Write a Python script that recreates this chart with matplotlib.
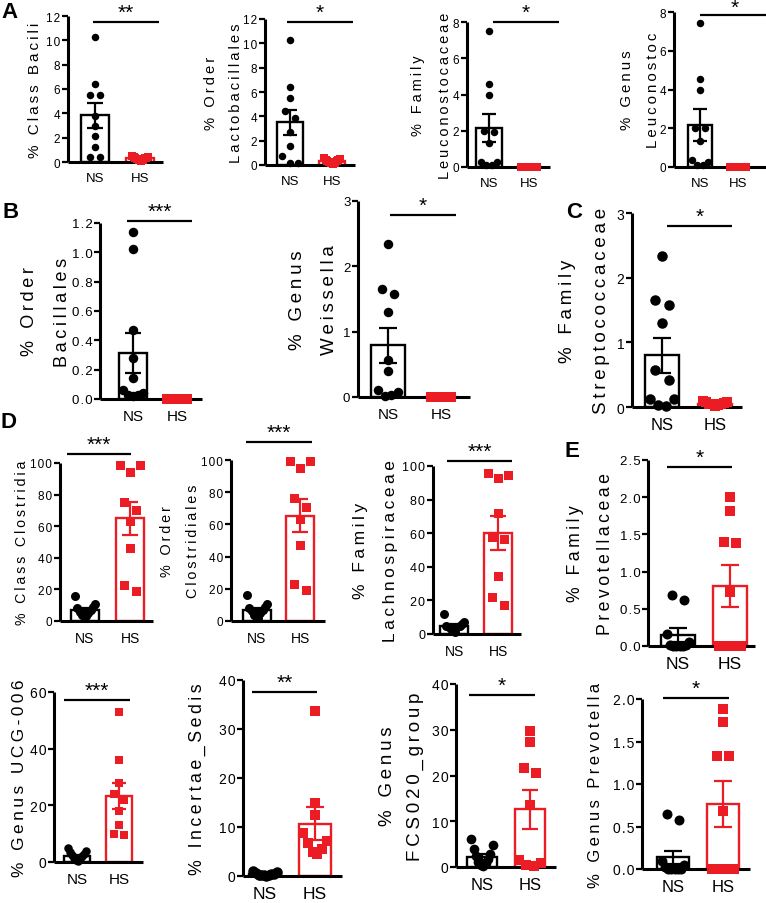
import numpy as np
import matplotlib
matplotlib.use('Agg')
import matplotlib.pyplot as plt

plt.rcParams['font.family'] = ['Liberation Sans', 'DejaVu Sans']

W, H = 766, 904
RED = '#ec1c24'
groups = ['NS', 'HS']

# ---------------- data (percent abundance) ----------------
bacili_ns = [10.3, 6.4, 5.5, 5.5, 3.8, 3.0, 2.1, 1.2, 0.4, 0.4]
bacili_hs = [0.5, 0.45, 0.4, 0.35, 0.3, 0.3, 0.25, 0.2, 0.15, 0.1]
bacili_mean = [3.84, 0.30]
bacili_sem = [1.02, 0.04]
bacili_ticks = [0, 2, 4, 6, 8, 10, 12]

lacto_ns = [10.3, 6.4, 5.5, 4.4, 3.9, 2.7, 1.6, 0.7, 0.2, 0.2]
lacto_hs = [0.55, 0.5, 0.45, 0.4, 0.35, 0.3, 0.25, 0.2, 0.15, 0.1]
lacto_mean = [3.5, 0.32]
lacto_sem = [1.05, 0.05]
lacto_ticks = [0, 2, 4, 6, 8, 10, 12]

leucfam_ns = [7.5, 4.6, 4.0, 2.0, 1.95, 1.3, 0.3, 0.3, 0.1, 0.1]
leucfam_hs = [0, 0, 0, 0, 0, 0, 0, 0, 0, 0]
leucfam_mean = [2.17, 0.0]
leucfam_sem = [0.78, 0.0]
leucfam_ticks = [0, 2, 4, 6, 8]

leucgen_ns = [7.45, 4.55, 4.0, 2.0, 2.0, 1.35, 0.35, 0.25, 0.1, 0.1]
leucgen_hs = [0, 0, 0, 0, 0, 0, 0, 0, 0, 0]
leucgen_mean = [2.16, 0.0]
leucgen_sem = [0.82, 0.0]
leucgen_ticks = [0, 2, 4, 6, 8]

bacillales_ns = [1.14, 1.02, 0.47, 0.28, 0.14, 0.06, 0.04, 0.03, 0.03, 0.02]
bacillales_hs = [0, 0, 0, 0, 0, 0, 0, 0, 0, 0]
bacillales_mean = [0.314, 0.0]
bacillales_sem = [0.135, 0.0]
bacillales_ticks = [0.0, 0.2, 0.4, 0.6, 0.8, 1.0, 1.2]

weissella_ns = [2.34, 1.65, 1.58, 1.30, 0.56, 0.40, 0.10, 0.08, 0.03, 0.02]
weissella_hs = [0, 0, 0, 0, 0, 0, 0, 0, 0, 0]
weissella_mean = [0.79, 0.0]
weissella_sem = [0.27, 0.0]
weissella_ticks = [0, 1, 2, 3]

strep_ns = [2.34, 1.66, 1.58, 1.30, 0.57, 0.41, 0.13, 0.13, 0.03, 0.02]
strep_hs = [0.1, 0.08, 0.07, 0.06, 0.05, 0.05, 0.04, 0.03, 0.02]
strep_mean = [0.80, 0.05]
strep_sem = [0.27, 0.01]
strep_ticks = [0, 1, 2, 3]

clostridia_ns = [16, 10.5, 9, 8, 7, 6, 5, 4, 3, 3]
clostridia_hs = [98.9, 98.7, 94.5, 75.6, 70.3, 63.6, 46.1, 22.9, 18.7]
clostridia_mean = [7.2, 65.1]
clostridia_sem = [1.3, 10.5]
clostridia_ticks = [0, 20, 40, 60, 80, 100]

clostridiales_ns = [16, 10.5, 9, 8, 7, 6, 5, 4, 3, 2]
clostridiales_hs = [99.2, 99.2, 95, 76.2, 70.7, 63.4, 46.9, 23.1, 19]
clostridiales_mean = [7.0, 65.5]
clostridiales_sem = [1.3, 10.4]
clostridiales_ticks = [0, 20, 40, 60, 80, 100]

lachno_ns = [12, 7, 6, 5, 5, 4, 4, 3, 2, 1]
lachno_hs = [95.6, 94.7, 93.1, 71.9, 58.0, 56.8, 34.7, 21.8, 17.2]
lachno_mean = [5.0, 60.0]
lachno_sem = [1.0, 10.2]
lachno_ticks = [0, 20, 40, 60, 80, 100]

prevfam_ns = [0.69, 0.62, 0.16, 0.05, 0.02, 0.01, 0, 0, 0, 0]
prevfam_hs = [2.0, 1.82, 1.4, 1.38, 0.73, 0, 0, 0, 0]
prevfam_mean = [0.148, 0.81]
prevfam_sem = [0.095, 0.28]
prevfam_ticks = [0.0, 0.5, 1.0, 1.5, 2.0, 2.5]

ucg_ns = [5.0, 4.0, 3.5, 3.0, 2.5, 2.0, 1.5, 1.0, 0.8, 0.5]
ucg_hs = [52.9, 35.9, 28, 24, 22, 18, 13.2, 10, 9.4]
ucg_mean = [2.1, 23.3]
ucg_sem = [0.5, 4.6]
ucg_ticks = [0, 20, 40, 60]

incertae_ns = [1.0, 0.8, 0.6, 0.5, 0.4, 0.3, 0.3, 0.2, 0.2, 0.1]
incertae_hs = [33.7, 15, 12.4, 8.8, 7.2, 6.8, 5.5, 4.8, 4.5]
incertae_mean = [0.44, 10.7]
incertae_sem = [0.09, 3.4]
incertae_ticks = [0, 10, 20, 30, 40]

fcs_ns = [6.2, 4.7, 3.9, 2.9, 2.5, 1.8, 1.2, 0.8, 0.5, 0.3]
fcs_hs = [29.8, 27.3, 21.6, 20.6, 13.6, 1.5, 0.8, 0.5, 0.3]
fcs_mean = [2.2, 12.6]
fcs_sem = [0.6, 4.2]
fcs_ticks = [0, 10, 20, 30, 40]

prevgen_ns = [0.65, 0.58, 0.1, 0.05, 0.02, 0, 0, 0, 0, 0]
prevgen_hs = [1.88, 1.73, 1.33, 1.33, 0.68, 0, 0, 0, 0]
prevgen_mean = [0.137, 0.765]
prevgen_sem = [0.08, 0.265]
prevgen_ticks = [0.0, 0.5, 1.0, 1.5, 2.0]

# ---------------- layout (pixels) ----------------
# box: left, right, zero-line y, top y, NS x, HS x
panels = [
    dict(ns=bacili_ns, hs=bacili_hs, mean=bacili_mean, sem=bacili_sem, ticks=bacili_ticks, fmt='{:g}',
         label=['% Class Bacili'], lab_x=[35], box=(68, 163, 163, 17, 95, 140),
         sig=(93, 159, 23, '**'), fs=(11, 8.5, 9.5), mk=7.5),
    dict(ns=lacto_ns, hs=lacto_hs, mean=lacto_mean, sem=lacto_sem, ticks=lacto_ticks, fmt='{:g}',
         label=['% Order', 'Lactobacillales'], lab_x=[211, 236], box=(265, 355, 166, 20, 290, 332),
         sig=(287, 353, 23, '*'), fs=(10.6, 8.5, 9.5), mk=7.5),
    dict(ns=leucfam_ns, hs=leucfam_hs, mean=leucfam_mean, sem=leucfam_sem, ticks=leucfam_ticks, fmt='{:g}',
         label=['% Family', 'Leuconostocaceae'], lab_x=[418, 445], box=(467, 550, 168, 23, 489, 529),
         sig=(493, 559, 23, '*'), fs=(10.5, 8.5, 9.5), mk=7.5),
    dict(ns=leucgen_ns, hs=leucgen_hs, mean=leucgen_mean, sem=leucgen_sem, ticks=leucgen_ticks, fmt='{:g}',
         label=['% Genus', 'Leuconostoc'], lab_x=[627, 653], box=(674, 766, 168, 13, 700, 738),
         sig=(700, 770, 16, '*'), fs=(10.8, 8.5, 9.5), mk=7.5),
    dict(ns=bacillales_ns, hs=bacillales_hs, mean=bacillales_mean, sem=bacillales_sem, ticks=bacillales_ticks,
         fmt='{:.1f}', label=['% Order', 'Bacillales'], lab_x=[30, 63], box=(100, 202, 400, 224, 133, 177),
         sig=(127, 192, 222, '***'), fs=(13, 9.5, 11), mk=9.5),
    dict(ns=weissella_ns, hs=weissella_hs, mean=weissella_mean, sem=weissella_sem, ticks=weissella_ticks,
         fmt='{:g}', label=['% Genus', 'Weissella'], lab_x=[298, 330], box=(358, 470, 398, 202, 388, 441),
         sig=(390, 456, 216, '*'), fs=(13.5, 9.5, 11), mk=9.5),
    dict(ns=strep_ns, hs=strep_hs, mean=strep_mean, sem=strep_sem, ticks=strep_ticks,
         fmt='{:g}', label=['% Family', 'Streptococcaceae'], lab_x=[568, 601], box=(632, 742, 408, 214, 662, 715),
         sig=(667, 732, 227, '*'), fs=(13.5, 10, 12), mk=10.5),
    dict(ns=clostridia_ns, hs=clostridia_hs, mean=clostridia_mean, sem=clostridia_sem, ticks=clostridia_ticks,
         fmt='{:g}', label=['% Class Clostridia'], lab_x=[22], box=(60, 153, 622, 464, 85, 130),
         sig=(67, 131, 455, '***'), fs=(10.2, 8.5, 10), mk=9),
    dict(ns=clostridiales_ns, hs=clostridiales_hs, mean=clostridiales_mean, sem=clostridiales_sem,
         ticks=clostridiales_ticks, fmt='{:g}', label=['% Order', 'Clostridiales'], lab_x=[167, 193],
         box=(231, 325, 622, 461, 257, 300), sig=(246, 312, 443, '***'), fs=(10.4, 8.5, 10), mk=9),
    dict(ns=lachno_ns, hs=lachno_hs, mean=lachno_mean, sem=lachno_sem, ticks=lachno_ticks,
         fmt='{:g}', label=['% Family', 'Lachnospiraceae'], lab_x=[360, 390], box=(433, 521, 635, 467, 454, 498),
         sig=(447, 512, 462, '***'), fs=(12.5, 9, 10), mk=9),
    dict(ns=prevfam_ns, hs=prevfam_hs, mean=prevfam_mean, sem=prevfam_sem, ticks=prevfam_ticks,
         fmt='{:.1f}', label=['% Family', 'Prevotellaceae'], lab_x=[576, 606], box=(648, 755, 647, 461, 678, 730),
         sig=(667, 732, 468, '*'), fs=(12.7, 9.5, 12.5), mk=10),
    dict(ns=ucg_ns, hs=ucg_hs, mean=ucg_mean, sem=ucg_sem, ticks=ucg_ticks,
         fmt='{:g}', label=['% Genus UCG-006'], lab_x=[20], box=(54, 143, 863, 693, 77, 119),
         sig=(64, 130, 701, '***'), fs=(12.4, 10, 11), mk=8.5),
    dict(ns=incertae_ns, hs=incertae_hs, mean=incertae_mean, sem=incertae_sem, ticks=incertae_ticks,
         fmt='{:g}', label=['% Incertae_Sedis'], lab_x=[197], box=(243, 342, 877, 681, 265, 315),
         sig=(252, 317, 693, '**'), fs=(12.8, 10, 12.5), mk=10.5),
    dict(ns=fcs_ns, hs=fcs_hs, mean=fcs_mean, sem=fcs_sem, ticks=fcs_ticks,
         fmt='{:g}', label=['% Genus', 'FCS020_group'], lab_x=[388, 415], box=(456, 556, 868, 685, 482, 530),
         sig=(469, 535, 696, '*'), fs=(13.5, 10, 12), mk=9.7),
    dict(ns=prevgen_ns, hs=prevgen_hs, mean=prevgen_mean, sem=prevgen_sem, ticks=prevgen_ticks,
         fmt='{:.1f}', label=['% Genus Prevotella'], lab_x=[596], box=(642, 750, 870, 700, 673, 723),
         sig=(663, 729, 699, '*'), fs=(12, 10, 12), mk=10),
]

panel_letters = [('A', 10, 12), ('B', 11, 213), ('C', 574, 212), ('D', 8, 423), ('E', 572, 452)]

THIN = '\u2009'
HAIR = '\u200a'


def spaced(s, sep=THIN):
    return sep.join(s)


def swarm_offsets(vals, yunit, d, maxoff):
    vals = np.asarray(vals, float)
    order = np.argsort(-vals, kind='stable')
    offs = np.zeros(len(vals))
    clusters, cur = [], [order[0]]
    for a, b in zip(order[:-1], order[1:]):
        if (vals[a] - vals[b]) * yunit < 0.85 * d:
            cur.append(b)
        else:
            clusters.append(cur)
            cur = [b]
    clusters.append(cur)
    for c in clusters:
        k = len(c)
        if k == 1:
            continue
        w = min((k - 1) * d, 2 * maxoff)
        pos = np.linspace(-w / 2, w / 2, k)
        idx = np.argsort(-np.abs(pos), kind='stable')
        for j, i in zip(c, idx):
            offs[j] = pos[i]
    return offs


fig = plt.figure(figsize=(W / 100, H / 100), dpi=100)

for p in panels:
    l, r, z, t, nsx, hsx = p['box']
    lfs, tfs, xfs = p['fs']
    ax = fig.add_axes([l / W, 1 - z / H, (r - l) / W, (z - t) / H])
    xunit = hsx - nsx
    ax.set_xlim((l - nsx) / xunit, (r - nsx) / xunit)
    ymax = p['ticks'][-1]
    ax.set_ylim(0, ymax)
    yunit = (z - t) / ymax
    bw = 0.64
    colors = ['black', RED]

    ax.bar([0, 1], p['mean'], width=bw, facecolor='white', edgecolor=colors, linewidth=1.7, zorder=2)

    mk = p['mk']
    for gi, (vals, marker, col) in enumerate([(p['ns'], 'o', 'black'), (p['hs'], 's', RED)]):
        offs = swarm_offsets(vals, yunit, d=mk * 1.25, maxoff=mk * 1.1)
        xs = gi + offs / xunit
        ax.scatter(xs, vals, s=(mk * 0.72) ** 2, marker=marker, color=col, linewidths=0,
                   zorder=3, clip_on=False)

    cap = 0.55 * bw * xunit * 0.72 / 2
    for gi in range(2):
        ax.errorbar([gi], [p['mean'][gi]], yerr=[p['sem'][gi]], fmt='none', ecolor=colors[gi],
                    elinewidth=1.6, capsize=cap, capthick=1.6, zorder=4, clip_on=False)

    for s in ['top', 'right']:
        ax.spines[s].set_visible(False)
    for s in ['left', 'bottom']:
        ax.spines[s].set_linewidth(2.2)
        ax.spines[s].set_capstyle('butt')

    ax.set_yticks(p['ticks'])
    ax.set_yticklabels([spaced(p['fmt'].format(v), HAIR) for v in p['ticks']])
    ax.set_xticks([0, 1])
    ax.set_xticklabels(groups)
    ax.tick_params(axis='y', length=4, width=1.6, pad=1.5, labelsize=tfs, direction='out')
    ax.tick_params(axis='x', length=0, pad=7, labelsize=xfs)

    # significance bar
    x0, x1, ys, star = p['sig']
    ax.plot([(x0 - nsx) / xunit, (x1 - nsx) / xunit], [(z - ys) / yunit] * 2, color='black',
            lw=1.6, clip_on=False, solid_capstyle='butt')
    sy = max(ys - 10, 8)
    fig.text(((x0 + x1) / 2) / W, 1 - sy / H, star, ha='center', va='center', fontsize=15)

    # y label (possibly two lines)
    yc = (z + t) / 2
    for txt, lx in zip(p['label'], p['lab_x']):
        fig.text(lx / W, 1 - yc / H, spaced(txt), rotation=90, ha='center', va='center', fontsize=lfs)

for letter, lx, ly in panel_letters:
    fig.text(lx / W, 1 - ly / H, letter, ha='center', va='center', fontsize=16, fontweight='bold')

fig.savefig('out.png', dpi=100)
